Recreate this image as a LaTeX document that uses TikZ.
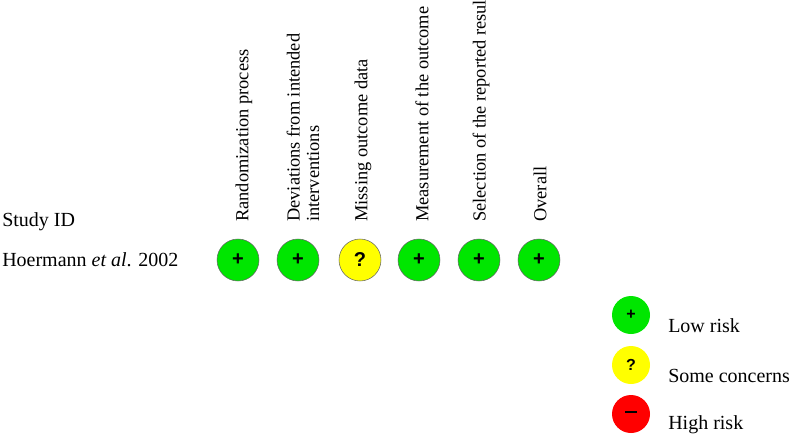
\documentclass[tikz,border=0pt]{standalone}
\usepackage{fontspec}
\setmainfont{Liberation Serif}
\newfontfamily\symfont{Liberation Sans}
\usetikzlibrary{positioning}
\definecolor{lowgreen}{RGB}{0,230,0}
\definecolor{someyellow}{RGB}{255,255,0}
\definecolor{highred}{RGB}{255,0,0}
\tikzstyle{headtext} = [rotate=90, anchor=west, inner sep=0pt, align=left, font=\fontsize{13.8}{14.5}\selectfont]
\tikzstyle{judge} = [circle, draw=black!60, minimum size=31.5pt, inner sep=0pt, font=\symfont\bfseries\fontsize{15}{15}\selectfont]
\tikzstyle{keydot} = [circle, minimum size=28.5pt, inner sep=0pt, font=\symfont\bfseries\fontsize{12}{12}\selectfont]
\tikzstyle{plain} = [inner sep=0pt, anchor=west, font=\fontsize{15}{16}\selectfont]

\begin{document}
\begin{tikzpicture}[x=0.75pt, y=-0.75pt]
    \useasboundingbox (0,0) rectangle (800,439);
    % domain headings
    \node[headtext] (d1) at (244,222) {Randomization process};
    \node[headtext] (d2) at (303,222) {Deviations from intended\\interventions};
    \node[headtext] (d3) at (363,222) {Missing outcome data};
    \node[headtext] (d4) at (422,222) {Measurement of the outcome};
    \node[headtext] (d5) at (481,222) {Selection of the reported result};
    \node[headtext] (d6) at (540,222) {Overall};
    % study row
    \node[plain] (sid) at (2,222) {Study ID};
    \node[plain] (st1) at (2,260) {Hoermann \textit{et al}. 2002};
    \node[judge, fill=lowgreen] (j1) at (238,260) {+};
    \node[judge, fill=lowgreen] (j2) at (298,260) {+};
    \node[judge, fill=someyellow] (j3) at (360,260) {?};
    \node[judge, fill=lowgreen] (j4) at (419,260) {+};
    \node[judge, fill=lowgreen] (j5) at (479,260) {+};
    \node[judge, fill=lowgreen] (j6) at (539,260) {+};
    % legend
    \node[keydot, fill=lowgreen] (k1) at (631,315) {+};
    \node[keydot, fill=someyellow] (k2) at (631,365) {?};
    \node[keydot, fill=highred] (k3) at (631,414) {\rule[0.25em]{0.7em}{0.13em}};
    \node[plain] (l1) at (668,326) {Low risk};
    \node[plain] (l2) at (668,376) {Some concerns};
    \node[plain] (l3) at (668,425) {High risk};
\end{tikzpicture}
\end{document}
